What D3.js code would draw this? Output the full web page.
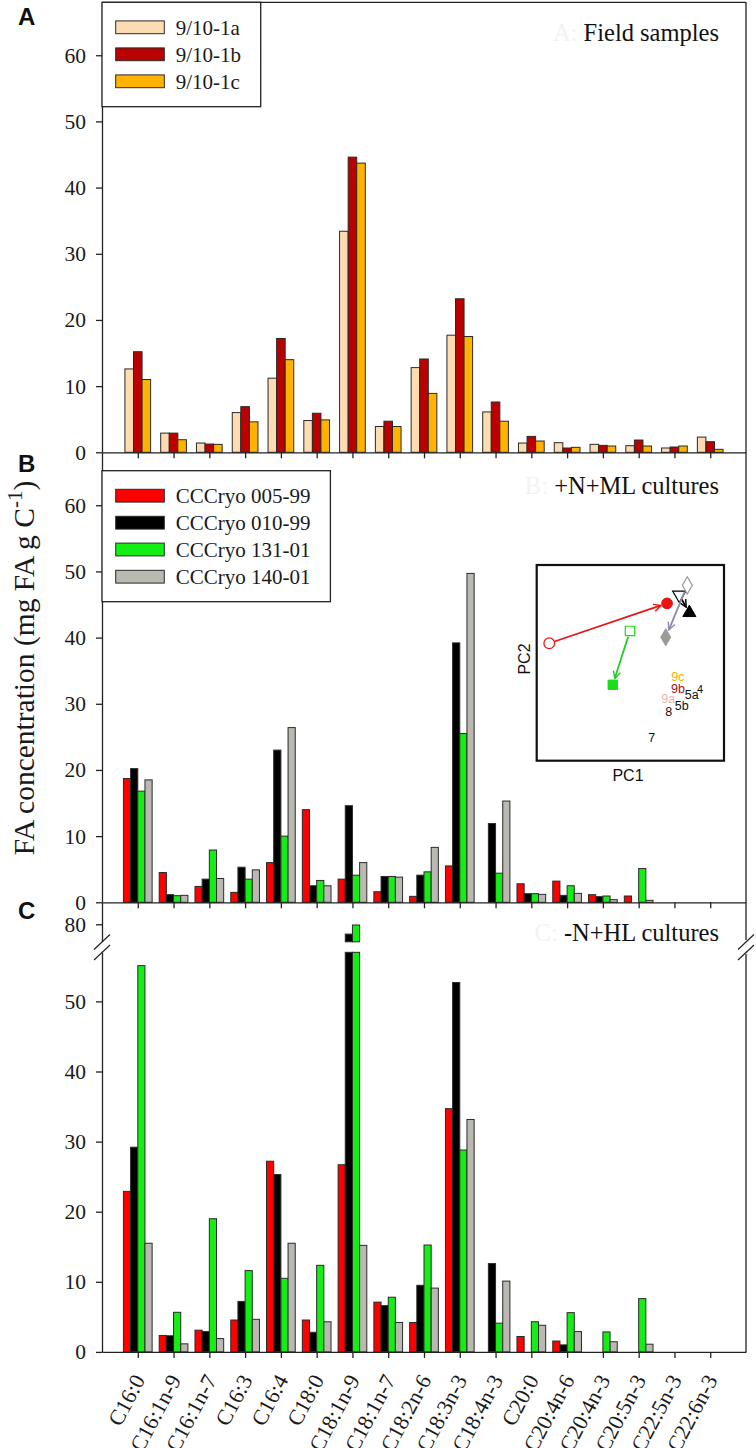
<!DOCTYPE html>
<html><head><meta charset="utf-8">
<script src="https://cdn.jsdelivr.net/npm/d3@7"></script>
<style>body{margin:0;background:#fff}</style>
</head><body><svg id="c" width="756" height="1448"></svg>
<script>
// ---------- DATA ----------
const categories = ["C16:0","C16:1n-9","C16:1n-7","C16:3","C16:4","C18:0","C18:1n-9","C18:1n-7","C18:2n-6","C18:3n-3","C18:4n-3","C20:0","C20:4n-6","C20:4n-3","C20:5n-3","C22:5n-3","C22:6n-3"];
const fieldNames = ["9/10-1a","9/10-1b","9/10-1c"];
const field1a = [12.6,2.9,1.4,6.0,11.2,4.8,33.4,3.9,12.8,17.7,6.1,1.4,1.45,1.2,1.0,0.65,2.3];
const field1b = [15.2,2.9,1.25,6.9,17.2,5.9,44.6,4.7,14.1,23.2,7.6,2.4,0.65,1.05,1.85,0.8,1.6];
const field1c = [11.0,1.9,1.2,4.6,14.0,4.9,43.7,3.9,8.9,17.5,4.7,1.7,0.75,0.95,0.95,0.95,0.45];
const strainNames = ["CCCryo 005-99","CCCryo 010-99","CCCryo 131-01","CCCryo 140-01"];
const ml005 = [18.7,4.5,2.4,1.5,6.0,14.0,3.5,1.6,0.9,5.5,0,2.8,3.2,1.15,0.95,0,0];
const ml010 = [20.2,1.15,3.5,5.3,23.0,2.5,14.6,3.9,4.1,39.2,11.9,1.3,1.05,0.85,0,0,0];
const ml131 = [16.8,1.0,7.9,3.5,10.0,3.3,4.1,3.9,4.6,25.5,4.4,1.3,2.5,0.95,5.1,0,0];
const ml140 = [18.5,1.05,3.6,4.9,26.4,2.5,6.0,3.8,8.3,49.7,15.3,1.2,1.35,0.4,0.3,0,0];
const hl005 = [22.9,2.35,3.1,4.55,27.2,4.55,26.7,7.1,4.2,34.7,0,2.2,1.55,0,0,0,0];
const hl010 = [29.2,2.3,2.9,7.2,25.3,2.8,78.6,6.6,9.5,52.7,12.6,0,1.0,0,0,0,0];
const hl131 = [55.1,5.65,19.0,11.6,10.5,12.35,79.9,7.8,15.25,28.8,4.1,4.3,5.6,2.85,7.6,0,0];
const hl140 = [15.5,1.15,1.9,4.65,15.5,4.3,15.2,4.2,9.1,33.15,10.1,3.8,2.9,1.45,1.1,0,0];
const yTicksAB = [0,10,20,30,40,50,60];
const yTicksCLow = [0,10,20,30,40,50];
const yTicksCHigh = [80];
const panelTitles = ["Field samples","+N+ML cultures","-N+HL cultures"];
const panelPrefixes = ["A: ","B: ","C: "];
// PCA inset (scores, arbitrary units 0-100)
const pcaMLpc1 = [6.7,76.1,49.8,80.4];
const pcaMLpc2 = [60.0,84.7,66.3,89.6];
const pcaHLpc1 = [69.6,81.5,40.6,68.9];
const pcaHLpc2 = [80.4,75.6,38.8,63.1];
const fieldPtLabels = ["9c","9b","5a","4","9a","5b","8","7"];
const fieldPtPc1 = [75.3,75.4,82.8,87.2,70.2,77.4,70.5,61.4];
const fieldPtPc2 = [43.2,37.0,33.9,37.0,31.6,28.0,24.9,11.8];

// ---------- STYLE / LAYOUT ----------
const serif = "'Liberation Serif','Times New Roman',Times,serif";
const sans = "'Liberation Sans',Arial,Helvetica,sans-serif";
const fieldColors = ["#FDDCB2","#BB0000","#FFB300"];
const strainColors = ["#FF0000","#000000","#14EE14","#B9B9B1"];
const L = 102, R = 746;
const topA = 2.3, baseA = 452.3, baseB = 902.3, baseC = 1351.9;
const pxPerUnitC = 7.01;
const lowMax = 57, highMin = 77.5, highMax = 83.14;

const svg = d3.select("#c");
const x = d3.scalePoint().domain(categories).range([L, R]).padding(1);
const yA = d3.scaleLinear().domain([0, 68]).range([baseA, topA]);
const yB = d3.scaleLinear().domain([0, 68]).range([baseB, baseA]);
const yClo = d3.scaleLinear().domain([0, lowMax]).range([baseC, baseC - lowMax * pxPerUnitC]);
const yChi = d3.scaleLinear().domain([highMin, highMax]).range([941.8, baseB]);

function styleAxis(g) {
  g.attr("font-family", serif).attr("font-size", 21.5);
  g.select(".domain").attr("stroke", "#222").attr("stroke-width", 1.3);
  g.selectAll(".tick line").attr("stroke", "#222").attr("stroke-width", 1.3);
  g.selectAll(".tick text").attr("fill", "#1a1a1a");
}

function drawBars(seriesList, colors, yScale, halfW) {
  const inner = d3.scaleBand().domain(d3.range(seriesList.length)).range([-halfW, halfW]);
  seriesList.forEach((vals, si) => {
    const data = vals.map((v, i) => ({ v, c: categories[i] })).filter(d => d.v > 0);
    svg.append("g").selectAll("rect").data(data).join("rect")
      .attr("x", d => x(d.c) + inner(si))
      .attr("width", inner.bandwidth())
      .attr("y", d => yScale(d.v))
      .attr("height", d => yScale(0) - yScale(d.v))
      .attr("fill", colors[si]).attr("stroke", "#2a2a2a").attr("stroke-width", 1);
  });
}

function drawBrokenBars(seriesList, colors, halfW) {
  const inner = d3.scaleBand().domain(d3.range(seriesList.length)).range([-halfW, halfW]);
  seriesList.forEach((vals, si) => {
    const data = vals.map((v, i) => ({ v, c: categories[i] })).filter(d => d.v > 0);
    const g = svg.append("g");
    g.selectAll("rect.lo").data(data).join("rect").attr("class", "lo")
      .attr("x", d => x(d.c) + inner(si)).attr("width", inner.bandwidth())
      .attr("y", d => yClo(Math.min(d.v, lowMax)))
      .attr("height", d => yClo(0) - yClo(Math.min(d.v, lowMax)))
      .attr("fill", colors[si]).attr("stroke", "#2a2a2a").attr("stroke-width", 1);
    g.selectAll("rect.hi").data(data.filter(d => d.v > highMin)).join("rect").attr("class", "hi")
      .attr("x", d => x(d.c) + inner(si)).attr("width", inner.bandwidth())
      .attr("y", d => yChi(d.v))
      .attr("height", d => yChi(highMin) - yChi(d.v))
      .attr("fill", colors[si]).attr("stroke", "#2a2a2a").attr("stroke-width", 1);
  });
}

// bars
drawBars([field1a, field1b, field1c], fieldColors, yA, 12.85);
drawBars([ml005, ml010, ml131, ml140], strainColors, yB, 14.35);
drawBrokenBars([hl005, hl010, hl131, hl140], strainColors, 14.35);

// frame: top and right
svg.append("line").attr("x1", L).attr("x2", R).attr("y1", topA).attr("y2", topA).attr("stroke", "#222").attr("stroke-width", 1.3);
svg.append("line").attr("x1", R).attr("x2", R).attr("y1", topA).attr("y2", 940).attr("stroke", "#222").attr("stroke-width", 1.3);
svg.append("line").attr("x1", R).attr("x2", R).attr("y1", 954).attr("y2", baseC).attr("stroke", "#222").attr("stroke-width", 1.3);

// left axes
[[yA, yTicksAB], [yB, yTicksAB], [yClo, yTicksCLow], [yChi, yTicksCHigh]].forEach(([s, t]) => {
  const g = svg.append("g").attr("transform", `translate(${L},0)`)
    .call(d3.axisLeft(s).tickValues(t).tickSize(6).tickSizeOuter(0).tickPadding(10).tickFormat(d3.format("d")));
  styleAxis(g);
});
// bottom axes
[baseA, baseB, baseC].forEach(b => {
  const g = svg.append("g").attr("transform", `translate(0,${b})`)
    .call(d3.axisBottom(x).tickSize(6).tickSizeOuter(0).tickFormat(""));
  styleAxis(g);
});
// category labels (rotated)
svg.append("g").selectAll("text").data(categories).join("text")
  .attr("transform", d => `translate(${x(d) + 8},${baseC + 28}) rotate(-62)`)
  .attr("text-anchor", "end").attr("font-family", serif).attr("font-size", 22).attr("fill", "#1a1a1a")
  .text(d => d);

// axis break marks
function breakMark(cx) {
  const g = svg.append("g");
  g.append("polygon").attr("points", `${cx-8},949.5 ${cx+8},934.5 ${cx+8},945 ${cx-8},960`).attr("fill", "#fff");
  g.append("line").attr("x1", cx-8).attr("y1", 949.5).attr("x2", cx+8).attr("y2", 934.5).attr("stroke", "#222").attr("stroke-width", 1.2);
  g.append("line").attr("x1", cx-8).attr("y1", 960).attr("x2", cx+8).attr("y2", 945).attr("stroke", "#222").attr("stroke-width", 1.2);
}
breakMark(L); breakMark(R);

// y-axis title
const yt = svg.append("text").attr("transform", "translate(34,668) rotate(-90)")
  .attr("text-anchor", "middle").attr("font-family", serif).attr("font-size", 29.5).attr("fill", "#1a1a1a");
yt.append("tspan").text("FA concentration (mg FA g C");
yt.append("tspan").attr("font-size", 21).attr("dy", -12).text("-1");
yt.append("tspan").attr("dy", 12).text(")");

// panel letters
[["A", 25], ["B", 472], ["C", 919]].forEach(([t, yy]) => {
  svg.append("text").attr("x", 18).attr("y", yy).attr("font-family", sans).attr("font-weight", "bold")
    .attr("font-size", 24).attr("fill", "#111").text(t);
});

// panel titles
[[41, 0], [494, 1], [941, 2]].forEach(([yy, i]) => {
  const t = svg.append("text").attr("x", 719).attr("y", yy).attr("text-anchor", "end")
    .attr("font-family", serif).attr("font-size", 24.5).attr("fill", "#111");
  t.append("tspan").attr("fill", "#f3f3f3").text(panelPrefixes[i]);
  t.append("tspan").text(panelTitles[i]);
});

// legends
function legend(x0, y0, w, h, names, colors, rowY) {
  const g = svg.append("g");
  g.append("rect").attr("x", x0).attr("y", y0).attr("width", w).attr("height", h)
    .attr("fill", "#fff").attr("stroke", "#222").attr("stroke-width", 1.3);
  names.forEach((n, i) => {
    g.append("rect").attr("x", 115.7).attr("y", rowY[i] - 6.4).attr("width", 48.6).attr("height", 12.8)
      .attr("fill", colors[i]).attr("stroke", "#2a2a2a").attr("stroke-width", 1);
    g.append("text").attr("x", 175.7).attr("y", rowY[i] + 7.3).attr("font-family", serif)
      .attr("font-size", 21).attr("fill", "#1a1a1a").text(n);
  });
}
legend(L, topA, 158.7, 104.4, fieldNames, fieldColors, [27.3, 54.3, 81.3]);
legend(L, 470.7, 228.4, 131, strainNames, strainColors, [495.7, 522.7, 549.5, 576.7]);

// ---------- PCA inset ----------
const px = d3.scaleLinear().domain([0, 100]).range([536.7, 724]);
const py = d3.scaleLinear().domain([0, 100]).range([760.7, 565]);
svg.append("rect").attr("x", 536.7).attr("y", 565).attr("width", 187.3).attr("height", 195.7)
  .attr("fill", "#fff").attr("stroke", "#111").attr("stroke-width", 2.2);
svg.append("text").attr("x", 628).attr("y", 781).attr("text-anchor", "middle").attr("font-family", sans)
  .attr("font-size", 16).attr("fill", "#111").text("PC1");
svg.append("text").attr("transform", "translate(530,659) rotate(-90)").attr("text-anchor", "middle")
  .attr("font-family", sans).attr("font-size", 16).attr("fill", "#111").text("PC2");

const symTypes = [d3.symbolCircle, d3.symbolTriangle, d3.symbolSquare, d3.symbolDiamond];
const symSizes = [90, 75, 88, 85];
const symColors = ["#EE1111", "#000000", "#18DD18", "#9A9A9A"];
const arrowColors = ["#E81515", "#000000", "#22CC22", "#8A8AAA"];
const startR = [5.5, 5, 6, 7];
const endR = [6.5, 6.5, 6.5, 8];
const defs = svg.append("defs");
arrowColors.forEach((c, i) => {
  defs.append("marker").attr("id", "ah" + i).attr("viewBox", "0 0 10 10").attr("refX", 9).attr("refY", 5)
    .attr("markerWidth", 9).attr("markerHeight", 9).attr("markerUnits", "userSpaceOnUse").attr("orient", "auto")
    .append("path").attr("d", "M1,1 L9,5 L1,9").attr("fill", "none").attr("stroke", c).attr("stroke-width", 1.6);
});
pcaMLpc1.forEach((_, i) => {
  const x1 = px(pcaMLpc1[i]), y1 = py(pcaMLpc2[i]), x2 = px(pcaHLpc1[i]), y2 = py(pcaHLpc2[i]);
  const d = Math.hypot(x2 - x1, y2 - y1), ux = (x2 - x1) / d, uy = (y2 - y1) / d;
  svg.append("line").attr("x1", x1 + ux * startR[i]).attr("y1", y1 + uy * startR[i])
    .attr("x2", x2 - ux * endR[i]).attr("y2", y2 - uy * endR[i])
    .attr("stroke", arrowColors[i]).attr("stroke-width", 1.8).attr("marker-end", `url(#ah${i})`);
  // open (+N+ML)
  svg.append("path").attr("d", d3.symbol().type(symTypes[i]).size(symSizes[i])())
    .attr("transform", `translate(${x1},${y1})` + (i === 1 ? " rotate(180)" : ""))
    .attr("fill", "#fff").attr("stroke", symColors[i]).attr("stroke-width", 1.2);
  // filled (-N+HL)
  svg.append("path").attr("d", d3.symbol().type(symTypes[i]).size(symSizes[i])())
    .attr("transform", `translate(${x2},${y2})`)
    .attr("fill", symColors[i]).attr("stroke", symColors[i]).attr("stroke-width", 1);
});
const fieldPtColors = ["#F5B000", "#B01020", "#111", "#111", "#F2B2AA", "#111", "#111", "#111"];
fieldPtLabels.forEach((t, i) => {
  svg.append("text").attr("x", px(fieldPtPc1[i])).attr("y", py(fieldPtPc2[i]) + 4.5)
    .attr("text-anchor", "middle").attr("font-family", sans).attr("font-size", t === "4" ? 11 : 12.5)
    .attr("fill", fieldPtColors[i]).text(t);
});
</script></body></html>
